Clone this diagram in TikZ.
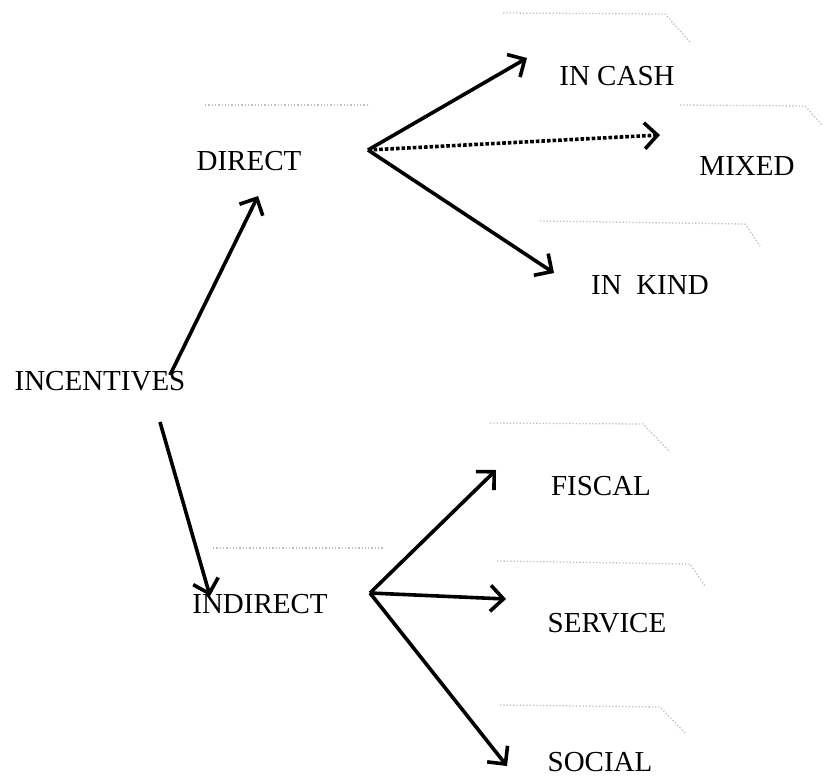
\documentclass[tikz,border=0pt]{standalone}
\usepackage{fontspec}
\setmainfont{Liberation Serif}
\usetikzlibrary{arrows.meta,calc}
\begin{document}
\begin{tikzpicture}[x=1pt,y=-1pt,
  lbl/.style={font=\fontsize{29}{32}\selectfont, inner sep=0pt, anchor=center},
  arr/.style={line width=3.6pt, -{Straight Barb[length=13pt,width=26pt,line width=3.6pt]}},
  shadow/.style={black!25, dotted, line width=1.3pt}]
\useasboundingbox (0,0) rectangle (827,780);
% labels
\node[lbl] (incentives) at (100,381) {INCENTIVES};
\node[lbl] (direct) at (249,161) {DIRECT};
\node[lbl] (indirect) at (260,604) {INDIRECT};
\node[lbl] (incash) at (617,76) {IN CASH};
\node[lbl] (mixed) at (747,166) {MIXED};
\node[lbl] (inkind) at (650,285) {IN\ \ KIND};
\node[lbl] (fiscal) at (601,486) {FISCAL};
\node[lbl] (service) at (607,623) {SERVICE};
\node[lbl] (social) at (600,762) {SOCIAL};
% connector ends
\coordinate (incS1) at (170,375);
\coordinate (dirE) at (258,196);
\coordinate (incS2) at (160,422);
\coordinate (indE) at (210,596);
\coordinate (dirhub) at (368,150);
\coordinate (cashE) at (527,58);
\coordinate (mixE) at (660,135);
\coordinate (kindE) at (554,273);
\coordinate (indhub) at (370,593);
\coordinate (fisE) at (496,470);
\coordinate (serE) at (506,599);
\coordinate (socE) at (507,766);
% faint shadow traces
\draw[shadow] (205,105) -- (370,105);
\draw[shadow] (503,13) -- (665,14) -- (690,42);
\draw[shadow] (680,105) -- (805,106) -- (822,125);
\draw[shadow] (540,221) -- (745,224) -- (760,246);
\draw[shadow] (490,423) -- (643,424) -- (670,452);
\draw[shadow] (213,548) -- (383,548);
\draw[shadow] (497,561) -- (690,564) -- (705,586);
\draw[shadow] (500,705) -- (660,707) -- (685,733);
% connectors
\draw[arr] (incS1) -- (dirE);
\draw[arr] (incS2) -- (indE);
\draw[arr] (dirhub) -- (cashE);
\draw[line width=3.6pt, dotted] (dirhub) -- ($(mixE)!3pt!(dirhub)$);
\draw[arr] ($(mixE)!3pt!(dirhub)$) -- (mixE);
\draw[arr] (dirhub) -- (kindE);
\draw[arr] (indhub) -- (fisE);
\draw[arr] (indhub) -- (serE);
\draw[arr] (indhub) -- (socE);
\end{tikzpicture}
\end{document}
